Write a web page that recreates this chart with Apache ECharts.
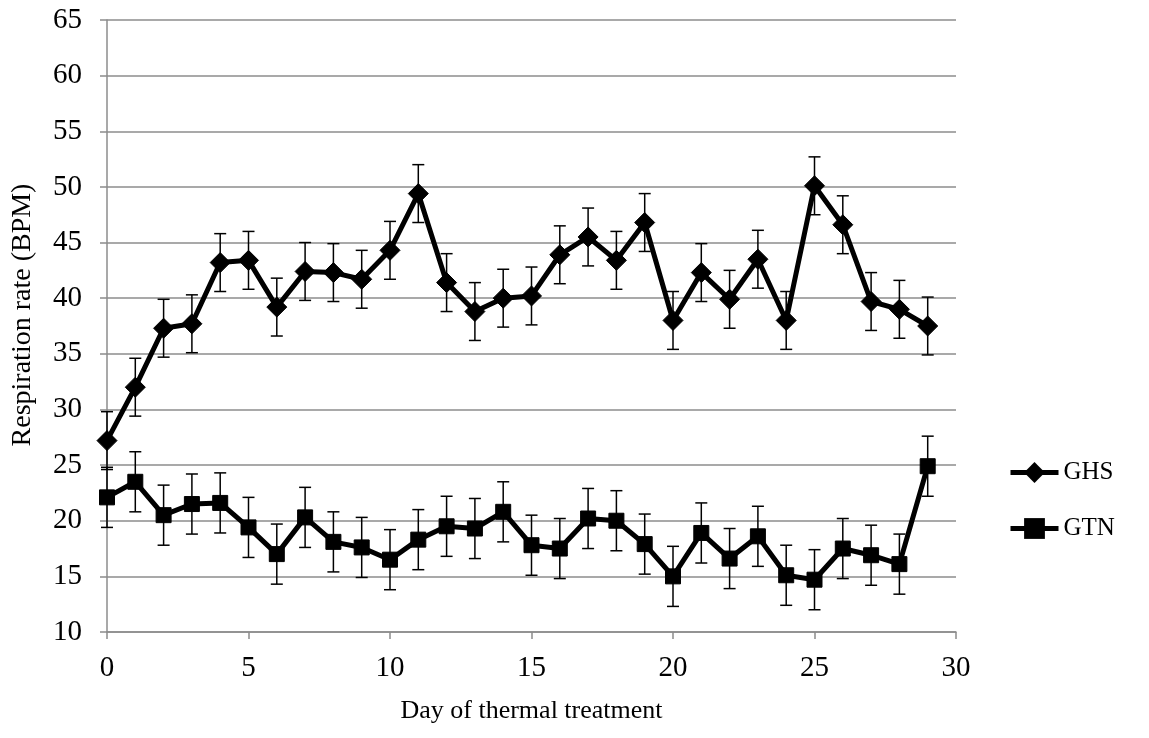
<!DOCTYPE html>
<html>
<head>
<meta charset="utf-8">
<script src="https://cdn.jsdelivr.net/npm/echarts@6/dist/echarts.min.js"></script>
<style>
  html, body { margin: 0; padding: 0; background: #fff; }
  #chart { width: 1149px; height: 738px; }
</style>
</head>
<body>
<div id="chart"></div>
<script>
// days of treatment
var days = [0,1,2,3,4,5,6,7,8,9,10,11,12,13,14,15,16,17,18,19,20,21,22,23,24,25,26,27,28,29];
// GHS respiration rate (BPM)
var ghs = [27.2,32.0,37.3,37.7,43.2,43.4,39.2,42.4,42.3,41.7,44.3,49.4,41.4,38.8,40.0,40.2,43.9,45.5,43.4,46.8,38.0,42.3,39.9,43.5,38.0,50.1,46.6,39.7,39.0,37.5];
var ghsErr = [2.6,2.6,2.6,2.6,2.6,2.6,2.6,2.6,2.6,2.6,2.6,2.6,2.6,2.6,2.6,2.6,2.6,2.6,2.6,2.6,2.6,2.6,2.6,2.6,2.6,2.6,2.6,2.6,2.6,2.6];
// GTN respiration rate (BPM)
var gtn = [22.1,23.5,20.5,21.5,21.6,19.4,17.0,20.3,18.1,17.6,16.5,18.3,19.5,19.3,20.8,17.8,17.5,20.2,20.0,17.9,15.0,18.9,16.6,18.6,15.1,14.7,17.5,16.9,16.1,24.9];
var gtnErr = [2.7,2.7,2.7,2.7,2.7,2.7,2.7,2.7,2.7,2.7,2.7,2.7,2.7,2.7,2.7,2.7,2.7,2.7,2.7,2.7,2.7,2.7,2.7,2.7,2.7,2.7,2.7,2.7,2.7,2.7];

var font = '"Liberation Serif", "Times New Roman", serif';
var grey = '#8c8c8c';

function pairs(vals){
  return days.map(function(d,i){ return [d, vals[i]]; });
}
function bars(vals, errs){
  return days.map(function(d,i){ return [d, vals[i]-errs[i], vals[i]+errs[i]]; });
}

function renderErr(params, api){
  var x = api.value(0);
  var lo = api.coord([x, api.value(1)]);
  var hi = api.coord([x, api.value(2)]);
  var w = 6;
  var st = { stroke: '#000', lineWidth: 1.5 };
  return {
    type: 'group',
    children: [
      { type: 'line', shape: { x1: lo[0], y1: lo[1], x2: hi[0], y2: hi[1] }, style: st },
      { type: 'line', shape: { x1: lo[0]-w, y1: lo[1], x2: lo[0]+w, y2: lo[1] }, style: st },
      { type: 'line', shape: { x1: hi[0]-w, y1: hi[1], x2: hi[0]+w, y2: hi[1] }, style: st }
    ]
  };
}

var chart = echarts.init(document.getElementById('chart'));
chart.setOption({
  animation: false,
  backgroundColor: '#fff',
  textStyle: { fontFamily: font },
  grid: { left: 107, right: 193, top: 20, bottom: 106 },
  legend: {
    orient: 'vertical',
    left: 1003,
    top: 455,
    itemGap: 31,
    itemWidth: 48,
    itemHeight: 26,
    lineStyle: { width: 5 },
    data: ['GHS', 'GTN'],
    textStyle: { fontFamily: font, fontSize: 25, color: '#000' }
  },
  xAxis: {
    type: 'value',
    min: 0, max: 30, interval: 5,
    name: 'Day of thermal treatment',
    nameLocation: 'middle',
    nameGap: 66,
    nameTextStyle: { fontFamily: font, fontSize: 26, color: '#000' },
    axisLine: { lineStyle: { color: grey, width: 1.5 } },
    axisTick: { show: true, length: 7, inside: false, lineStyle: { color: grey, width: 1.5 } },
    axisLabel: { fontFamily: font, fontSize: 29, color: '#000', margin: 22 },
    splitLine: { show: false }
  },
  yAxis: {
    type: 'value',
    min: 10, max: 65, interval: 5,
    name: 'Respiration rate (BPM)',
    nameLocation: 'middle',
    nameGap: 70,
    nameTextStyle: { fontFamily: font, fontSize: 28, color: '#000', padding: [0, 0, 0, 22] },
    axisLine: { show: true, lineStyle: { color: grey, width: 1.5 } },
    axisTick: { show: true, length: 7, lineStyle: { color: grey, width: 1.5 } },
    axisLabel: { fontFamily: font, fontSize: 29, color: '#000', margin: 25 },
    splitLine: { show: true, lineStyle: { color: grey, width: 1.5 } }
  },
  series: [
    {
      name: 'GHS err', type: 'custom', renderItem: renderErr,
      data: bars(ghs, ghsErr), z: 3, silent: true
    },
    {
      name: 'GTN err', type: 'custom', renderItem: renderErr,
      data: bars(gtn, gtnErr), z: 3, silent: true
    },
    {
      name: 'GHS', type: 'line', data: pairs(ghs),
      symbol: 'diamond', symbolSize: 20, showAllSymbol: true,
      lineStyle: { color: '#000', width: 5 },
      itemStyle: { color: '#000', borderColor: '#000' },
      z: 4
    },
    {
      name: 'GTN', type: 'line', data: pairs(gtn),
      symbol: 'rect', symbolSize: 15, showAllSymbol: true,
      lineStyle: { color: '#000', width: 5 },
      itemStyle: { color: '#000', borderColor: '#000' },
      z: 4
    }
  ]
});
</script>
</body>
</html>
